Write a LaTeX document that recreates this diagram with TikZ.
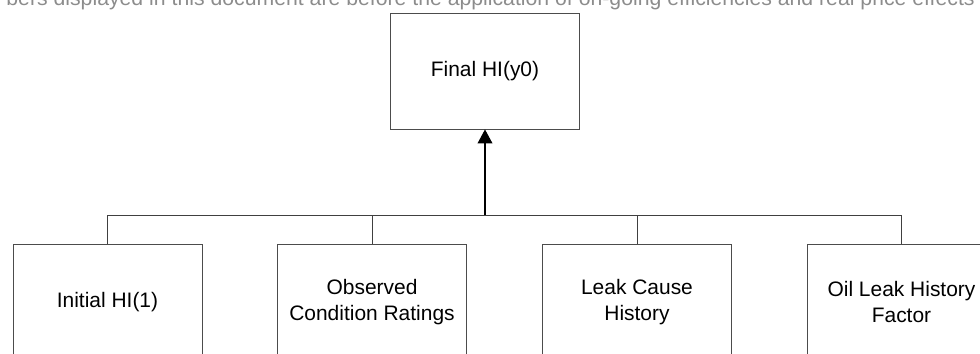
\documentclass[tikz,border=0pt]{standalone}
\usepackage{fontspec}
\setmainfont{Liberation Sans}
\usetikzlibrary{arrows.meta}
\begin{document}
\begin{tikzpicture}[x=0.025cm,y=-0.025cm,
    box/.style={draw=black!70,line width=0.6pt,minimum width=4.725cm,minimum height=2.9cm,
      align=center,inner sep=0pt,font=\fontsize{14.9}{18.6}\selectfont},
    link/.style={draw=black!75,line width=0.6pt}]
  \useasboundingbox (0,0) rectangle (980,354);
  \clip (0,0) rectangle (980,354);
  \node[anchor=base east,text=black!45,inner sep=0pt,font=\fontsize{15.1}{17}\selectfont] (note)
    at (975,6) {bers displayed in this document are before the application of on-going efficiencies and real price effects};
  \draw
    (485,71) node[box] (final){Final HI(y0)}
    (107.5,302) node[box] (init){Initial HI(1)}
    (372,302) node[box] (obs){Observed\\Condition Ratings}
    (637,302) node[box] (leak){Leak Cause\\History}
    (901.5,302) node[box] (oil){Oil Leak History\\Factor};
  \coordinate (bus) at (485,215);
  \begin{scope}[link]
    \draw (init) |- (bus);
    \draw (obs) |- (bus);
    \draw (leak) |- (bus);
    \draw (oil) |- (bus);
  \end{scope}
  \draw[line width=0.8pt,-{Triangle[length=0.35cm,width=0.37cm]}] (bus) to (final);
\end{tikzpicture}
\end{document}
